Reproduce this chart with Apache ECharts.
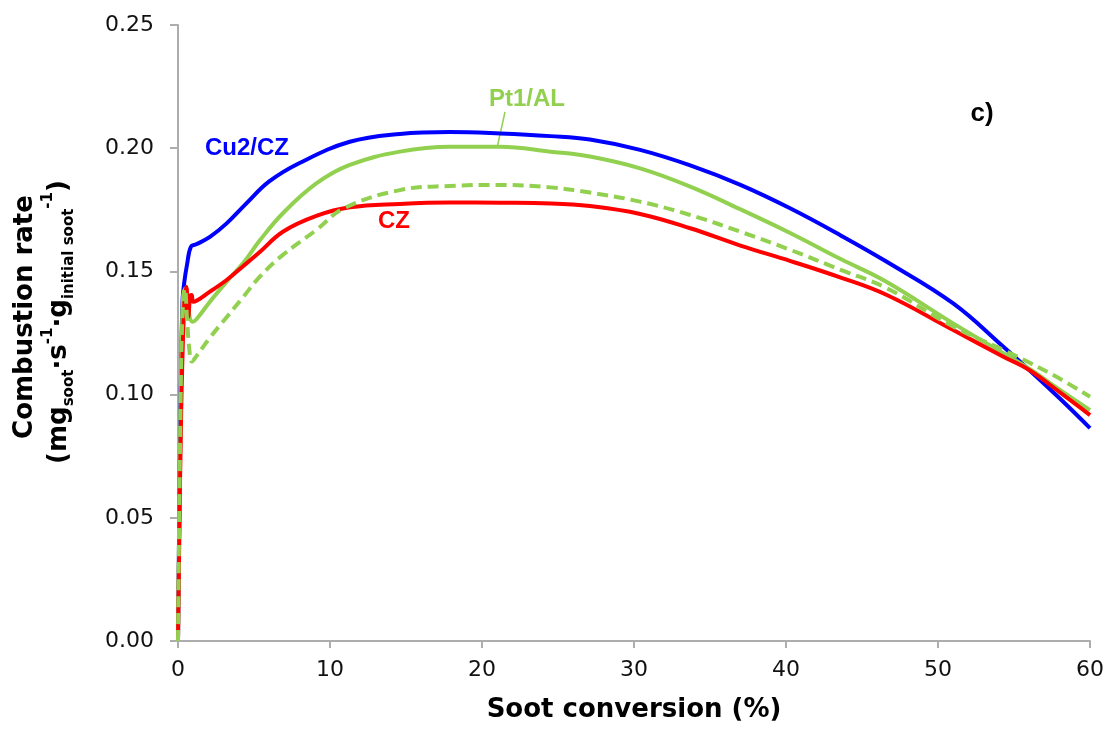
<!DOCTYPE html>
<html>
<head>
<meta charset="utf-8">
<script src="https://cdn.jsdelivr.net/npm/echarts@6/dist/echarts.min.js"></script>
<style>
html,body{margin:0;padding:0;background:#fff;}
#c{width:1111px;height:729px;}
</style>
</head>
<body>
<div id="c"></div>
<script>
// ---- data ----
const xTicks = [0, 10, 20, 30, 40, 50, 60];
const yTicks = [0, 0.05, 0.10, 0.15, 0.20, 0.25];

const cuX = [0, 0.1, 0.2, 0.3, 0.4, 0.6, 0.85, 1.2, 2.1, 3.2, 4.5, 6.0, 8.0, 11.3, 14.6, 17.9, 21.2, 24.5, 27.1, 30.4, 33.7, 37.0, 40.3, 43.6, 46.6, 51.0, 54.3, 56.0, 58.0, 60];
const cuY = [0, 0.06, 0.11, 0.138, 0.145, 0.153, 0.160, 0.161, 0.164, 0.1695, 0.1776, 0.1865, 0.1940, 0.2026, 0.2058, 0.2066, 0.2060, 0.2049, 0.2035, 0.1993, 0.1930, 0.1851, 0.1755, 0.1646, 0.1540, 0.137, 0.1194, 0.110, 0.0985, 0.0864];

const ptX = [0, 0.15, 0.3, 0.45, 0.6, 0.75, 0.95, 1.2, 2.1, 3.2, 4.3, 5.4, 6.9, 9.1, 11.3, 14.6, 17.9, 21.2, 24.5, 27.1, 30.4, 33.7, 37.0, 40.3, 43.6, 46.6, 51.0, 54.3, 56.0, 58.0, 60];
const ptY = [0, 0.08, 0.135, 0.143, 0.140, 0.132, 0.1296, 0.1305, 0.1377, 0.1458, 0.1535, 0.1627, 0.1736, 0.1857, 0.1932, 0.1986, 0.2006, 0.2006, 0.1986, 0.1966, 0.1918, 0.1844, 0.1752, 0.1655, 0.1550, 0.1458, 0.1289, 0.1168, 0.1105, 0.1020, 0.0937];

const czX = [0, 0.2, 0.4, 0.55, 0.68, 0.8, 0.9, 1.0, 2.1, 3.2, 4.3, 5.4, 6.9, 9.1, 11.3, 14.6, 17.9, 21.2, 24.5, 27.1, 30.4, 33.7, 37.0, 40.3, 43.6, 46.6, 51.0, 54.3, 56.0, 58.0, 60];
const czY = [0, 0.09, 0.135, 0.1438, 0.1316, 0.140, 0.1404, 0.1377, 0.1418, 0.1465, 0.1522, 0.158, 0.1661, 0.1725, 0.176, 0.1774, 0.178, 0.1779, 0.1776, 0.1765, 0.1733, 0.1675, 0.1605, 0.1542, 0.1475, 0.1405, 0.1262, 0.1154, 0.110, 0.1010, 0.0917];

const ptAgedX = [0, 0.2, 0.35, 0.45, 0.6, 0.75, 0.9, 1.2, 2.1, 3.2, 4.3, 5.4, 6.9, 9.1, 10.9, 14.6, 17.9, 21.2, 24.5, 27.1, 30.4, 33.7, 37.0, 40.3, 43.6, 46.6, 51.0, 54.3, 56.0, 58.0, 60];
const ptAgedY = [0, 0.11, 0.14, 0.143, 0.130, 0.118, 0.1134, 0.1155, 0.1231, 0.1314, 0.1397, 0.148, 0.1567, 0.1668, 0.1756, 0.183, 0.1847, 0.1851, 0.1841, 0.1820, 0.1783, 0.1729, 0.1661, 0.1587, 0.1506, 0.1433, 0.1276, 0.1181, 0.113, 0.1065, 0.0991];

const zip = (xs, ys) => xs.map((x, i) => [x, ys[i]]);

const chart = echarts.init(document.getElementById('c'), null, {renderer: 'canvas'});
const axisCol = '#ADADAD';
const lineSeries = (name, xs, ys, color, dashed) => ({
  name, type: 'line', data: zip(xs, ys), showSymbol: false, symbol: 'none',
  smooth: 0.4, animation: false,
  lineStyle: {color, width: 4, type: dashed ? [11, 6] : 'solid', cap: 'butt', join: 'round'}
});

const option = {
  backgroundColor: '#fff',
  animation: false,
  grid: {left: 178, right: 21, top: 25, bottom: 88, containLabel: false},
  xAxis: {
    type: 'value', min: 0, max: 60, interval: 10,
    name: 'Soot conversion (%)', nameLocation: 'middle', nameGap: 56,
    nameTextStyle: {fontFamily: 'DejaVu Sans', fontWeight: 'bold', fontSize: 26, color: '#000'},
    axisLine: {show: true, lineStyle: {color: axisCol, width: 2}},
    axisTick: {show: true, length: 7, lineStyle: {color: axisCol, width: 2}},
    axisLabel: {fontFamily: 'DejaVu Sans', fontSize: 22, color: '#111', margin: 18,
      formatter: v => xTicks.includes(v) ? String(v) : ''},
    splitLine: {show: false}
  },
  yAxis: {
    type: 'value', min: 0, max: 0.25, interval: 0.05,
    axisLine: {show: true, lineStyle: {color: axisCol, width: 2}},
    axisTick: {show: true, length: 8, lineStyle: {color: axisCol, width: 2}},
    axisLabel: {fontFamily: 'DejaVu Sans', fontSize: 22, color: '#111', margin: 24,
      formatter: v => yTicks.some(t => Math.abs(t - v) < 1e-9) ? v.toFixed(2) : ''},
    splitLine: {show: false}
  },
  series: [
    lineSeries('Cu2/CZ', cuX, cuY, '#0000FF', false),
    lineSeries('Pt1/AL', ptX, ptY, '#92D050', false),
    lineSeries('CZ', czX, czY, '#FF0000', false),
    lineSeries('Pt1/AL aged', ptAgedX, ptAgedY, '#92D050', true)
  ],
  graphic: [
    {type: 'text', x: 25, y: 317, rotation: Math.PI / 2,
      style: {text: 'Combustion rate', fill: '#000', fontFamily: 'DejaVu Sans', fontWeight: 'bold', fontSize: 26,
        align: 'center', verticalAlign: 'middle'}},
    {type: 'text', x: 59, y: 322, rotation: Math.PI / 2,
      style: {
        text: '{m|(mg}{sub|soot}{m|·s}{sup|-1}{m|·g}{sub|initial soot}{sup|-1}{m|)}',
        fill: '#000', align: 'center', verticalAlign: 'middle',
        rich: {
          m: {fontFamily: 'DejaVu Sans', fontWeight: 'bold', fontSize: 26, lineHeight: 36, verticalAlign: 'middle', fill: '#000'},
          sub: {fontFamily: 'DejaVu Sans', fontWeight: 'bold', fontSize: 15, lineHeight: 16, verticalAlign: 'bottom', fill: '#000'},
          sup: {fontFamily: 'DejaVu Sans', fontWeight: 'bold', fontSize: 15, lineHeight: 24, verticalAlign: 'top', fill: '#000'}
        }
      }},
    {type: 'text', x: 247, y: 148,
      style: {text: 'Cu2/CZ', fill: '#0000FF', fontFamily: 'Liberation Sans', fontWeight: 'bold', fontSize: 24, align: 'center', verticalAlign: 'middle'}},
    {type: 'text', x: 527, y: 99,
      style: {text: 'Pt1/AL', fill: '#92D050', fontFamily: 'Liberation Sans', fontWeight: 'bold', fontSize: 24, align: 'center', verticalAlign: 'middle'}},
    {type: 'line', shape: {x1: 505, y1: 112, x2: 497, y2: 148},
      style: {stroke: '#92D050', lineWidth: 1.5}},
    {type: 'text', x: 394, y: 221,
      style: {text: 'CZ', fill: '#FF0000', fontFamily: 'Liberation Sans', fontWeight: 'bold', fontSize: 24, align: 'center', verticalAlign: 'middle'}},
    {type: 'text', x: 982, y: 114,
      style: {text: 'c)', fill: '#000', fontFamily: 'Liberation Sans', fontWeight: 'bold', fontSize: 26, align: 'center', verticalAlign: 'middle'}}
  ]
};
chart.setOption(option);
</script>
</body>
</html>
